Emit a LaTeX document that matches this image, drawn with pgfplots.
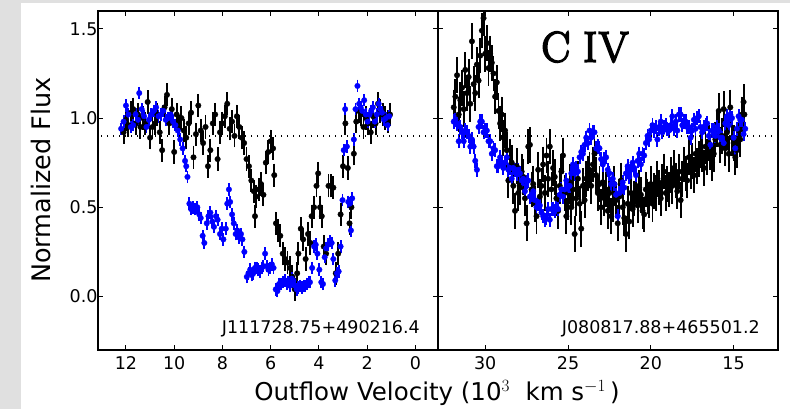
\documentclass[border=0pt]{standalone}
\usepackage{pgfplots}
\pgfplotsset{compat=1.18}
\usepackage{fontspec}
\setmainfont{DejaVu Sans}
\newfontfamily\civfont[FakeBold=4]{Latin Modern Roman}
\definecolor{bg}{RGB}{224,224,224}
\definecolor{pblue}{RGB}{0,0,255}
\pgfplotsset{
  panel/.style={
    scale only axis, width=340bp, height=339bp,
    ymin=-0.3, ymax=1.6, x dir=reverse,
    axis line style={line width=1.2bp},
    every tick/.style={line width=1bp, black},
    major tick length=5bp,
    tick align=inside, tick pos=both,
    ytick={0,0.5,1,1.5},
    /pgf/number format/assume math mode=true,
    tick label style={font=\fontsize{17.5bp}{21bp}\selectfont},
    xticklabel style={yshift=-3bp},
    yticklabel style={xshift=3bp, /pgf/number format/.cd, fixed, fixed zerofill, precision=1},
    clip=true,
  },
  blk/.style={only marks, mark=*, mark size=2.8bp, draw=black, fill=black,
    mark options={fill=black, draw=black, line width=0.3bp},
    error bars/.cd, y dir=both, y fixed=#1, error mark=none,
    error bar style={line width=1.9bp, black}},
  blu/.style={only marks, mark=*, mark size=2.8bp, draw=pblue, fill=pblue,
    mark options={fill=pblue, draw=pblue, line width=0.3bp},
    error bars/.cd, y dir=both, y fixed=#1, error mark=none,
    error bar style={line width=1.9bp, pblue}},
  dotl/.style={black, line width=1.4bp, dash pattern=on 1.4bp off 4.6bp},
}
\begin{document}
\begin{tikzpicture}[x=1bp,y=1bp]
\useasboundingbox (0,0) rectangle (790,409);
\fill[bg] (0,0) rectangle (790,409);
\fill[white] (21,0) rectangle (790,406);

% ---------------- left panel ----------------
\begin{axis}[panel, at={(98bp,59bp)}, anchor=south west,
  xmin=-0.94, xmax=13.16, xtick={0,2,4,6,8,10,12}]
\addplot[blk=0.065] table[row sep=\\]{x y\\
12.1 0.92\\ 12.0 0.99\\ 11.9 0.96\\ 11.8 1.03\\ 11.7 1.05\\ 11.6 0.97\\ 11.5 1.02\\ 11.4 0.95\\ 11.3 1.00\\ 11.2 0.97\\
11.1 1.09\\ 11.0 0.89\\ 10.9 0.95\\ 10.8 0.97\\ 10.7 1.02\\ 10.6 0.92\\ 10.5 0.82\\ 10.4 1.06\\ 10.3 1.13\\ 10.2 0.97\\
10.1 1.05\\ 10.0 0.81\\ 9.9 1.02\\ 9.8 0.95\\ 9.7 1.00\\ 9.6 0.93\\ 9.5 0.89\\ 9.4 0.97\\ 9.3 1.03\\ 9.2 0.78\\
9.1 0.91\\ 9.0 1.07\\ 8.9 0.93\\ 8.8 0.86\\ 8.7 0.95\\ 8.6 0.73\\ 8.5 0.82\\ 8.4 0.97\\ 8.3 1.02\\ 8.2 0.77\\
8.1 0.92\\ 8.0 0.97\\ 7.9 1.01\\ 7.8 1.08\\ 7.7 0.94\\ 7.6 0.98\\ 7.5 0.90\\ 7.4 1.01\\ 7.3 0.95\\ 7.2 0.89\\
7.1 0.86\\ 7.0 0.77\\ 6.9 0.73\\ 6.8 0.65\\ 6.7 0.59\\ 6.65 0.45\\ 6.6 0.56\\ 6.5 0.60\\ 6.4 0.63\\ 6.3 0.57\\
6.2 0.75\\ 6.1 0.81\\ 6.0 0.87\\ 5.9 0.83\\ 5.85 0.68\\ 5.78 0.41\\ 5.7 0.37\\ 5.6 0.34\\ 5.5 0.24\\ 5.4 0.21\\
5.3 0.19\\ 5.2 0.16\\ 5.1 0.11\\ 5.0 0.04\\ 4.9 0.13\\ 4.85 0.24\\ 4.75 0.38\\ 4.65 0.32\\ 4.55 0.21\\ 4.45 0.35\\
4.35 0.30\\ 4.3 0.45\\ 4.2 0.50\\ 4.1 0.62\\ 4.03 0.69\\ 3.95 0.50\\ 3.88 0.45\\ 3.8 0.28\\ 3.7 0.24\\ 3.6 0.62\\
3.5 0.62\\ 3.4 0.61\\ 3.3 0.13\\ 3.2 0.24\\ 3.1 0.46\\ 3.0 0.73\\ 2.9 0.97\\ 2.8 0.72\\ 2.73 0.41\\ 2.65 0.50\\
2.55 0.80\\ 2.45 0.98\\ 2.35 1.04\\ 2.25 1.02\\ 2.15 0.95\\ 2.05 1.00\\ 1.95 0.97\\ 1.85 0.92\\ 1.75 1.01\\ 1.65 0.97\\
1.55 1.08\\ 1.45 1.04\\ 1.35 1.02\\ 1.25 1.00\\ 1.15 0.98\\ 1.05 1.02\\
};
\addplot[blu=0.035] table[row sep=\\]{x y\\
12.2 0.94\\ 12.1 0.98\\ 12.0 1.07\\ 11.9 1.02\\ 11.8 0.95\\ 11.7 0.96\\ 11.6 1.02\\ 11.5 0.99\\ 11.45 1.14\\ 11.35 1.05\\
11.25 1.01\\ 11.15 0.95\\ 11.05 0.99\\ 10.95 1.02\\ 10.85 1.04\\ 10.75 1.06\\ 10.65 1.01\\ 10.55 1.02\\ 10.45 1.04\\ 10.35 0.99\\
10.25 1.00\\ 10.15 1.02\\ 10.05 0.98\\ 9.95 0.96\\ 9.85 0.93\\ 9.75 0.88\\ 9.65 0.83\\ 9.55 0.76\\ 9.5 0.73\\ 9.45 0.67\\
9.37 0.52\\ 9.3 0.49\\ 9.22 0.50\\ 9.14 0.49\\ 9.04 0.50\\ 8.96 0.46\\ 8.9 0.44\\ 8.82 0.34\\ 8.75 0.30\\ 8.65 0.41\\
8.58 0.45\\ 8.5 0.47\\ 8.42 0.42\\ 8.35 0.39\\ 8.27 0.45\\ 8.2 0.43\\ 8.1 0.35\\ 8.03 0.38\\ 7.96 0.32\\ 7.86 0.38\\
7.8 0.52\\ 7.73 0.60\\ 7.68 0.53\\ 7.6 0.46\\ 7.53 0.41\\ 7.45 0.35\\ 7.38 0.37\\ 7.3 0.33\\ 7.23 0.35\\ 7.17 0.32\\
7.09 0.25\\ 6.99 0.11\\ 6.92 0.13\\ 6.85 0.15\\ 6.78 0.12\\ 6.72 0.13\\ 6.65 0.16\\ 6.58 0.16\\ 6.51 0.15\\ 6.44 0.14\\
6.37 0.16\\ 6.3 0.17\\ 6.23 0.24\\ 6.16 0.17\\ 6.09 0.15\\ 6.02 0.16\\ 5.95 0.18\\ 5.88 0.16\\ 5.79 0.04\\ 5.72 0.03\\
5.65 0.07\\ 5.57 0.07\\ 5.5 0.08\\ 5.4 0.09\\ 5.33 0.07\\ 5.27 0.08\\ 5.2 0.06\\ 5.13 0.10\\ 5.06 0.09\\ 4.99 0.06\\
4.92 0.04\\ 4.85 0.05\\ 4.78 0.06\\ 4.71 0.05\\ 4.64 0.06\\ 4.57 0.06\\ 4.5 0.07\\ 4.43 0.08\\ 4.37 0.08\\ 4.28 0.16\\
4.2 0.28\\ 4.13 0.29\\ 4.06 0.24\\ 3.98 0.15\\ 3.9 0.08\\ 3.83 0.07\\ 3.76 0.22\\ 3.7 0.27\\ 3.62 0.29\\ 3.55 0.31\\
3.47 0.30\\ 3.4 0.21\\ 3.32 0.09\\ 3.25 0.13\\ 3.18 0.14\\ 3.1 0.28\\ 3.02 0.54\\ 2.97 0.82\\ 2.91 1.05\\ 2.84 0.84\\
2.78 0.53\\ 2.72 0.52\\ 2.67 0.37\\ 2.62 0.55\\ 2.55 0.88\\ 2.48 1.05\\ 2.4 1.18\\ 2.33 1.08\\ 2.27 1.06\\ 2.2 1.04\\
2.12 1.10\\ 2.05 1.02\\ 1.98 0.98\\ 1.9 1.02\\ 1.83 1.04\\ 1.76 1.06\\ 1.68 0.98\\ 1.6 1.02\\ 1.52 1.08\\ 1.45 1.05\\
1.38 1.03\\ 1.3 0.99\\ 1.22 1.00\\ 1.15 0.96\\ 1.08 1.01\\
};
\addplot[dotl] coordinates {(-0.94,0.9) (13.16,0.9)};
\end{axis}

% ---------------- right panel ----------------
\begin{axis}[panel, at={(438bp,59bp)}, anchor=south west,
  xmin=12.32, xmax=32.85, xtick={15,20,25,30}, yticklabels={}]
\addplot[blk=0.1] table[row sep=\\]{x y\\
31.9 1.06\\ 31.8 1.12\\ 31.7 1.24\\ 31.6 1.02\\ 31.5 1.10\\ 31.4 1.17\\ 31.3 1.05\\ 31.2 1.27\\ 31.1 1.14\\ 31.0 1.23\\
30.9 1.08\\ 30.8 1.43\\ 30.7 1.19\\ 30.6 1.14\\ 30.5 1.30\\ 30.4 1.21\\ 30.3 1.35\\ 30.2 1.49\\ 30.1 1.56\\ 30.0 1.36\\
29.9 1.42\\ 29.8 1.28\\ 29.7 1.36\\ 29.6 1.31\\ 29.5 1.25\\ 29.4 1.12\\ 29.3 1.20\\ 29.2 1.04\\ 29.1 0.97\\ 29.0 1.02\\
28.9 0.89\\ 28.8 0.93\\ 28.7 0.82\\ 28.6 0.65\\ 28.5 0.78\\ 28.4 0.75\\ 28.3 0.62\\ 28.2 0.48\\ 28.1 0.73\\ 28.0 0.58\\
27.9 0.61\\ 27.8 0.70\\ 27.7 0.67\\ 27.6 0.55\\ 27.5 0.41\\ 27.4 0.84\\ 27.3 0.85\\ 27.2 0.60\\ 27.1 0.63\\ 27.0 0.52\\
26.9 0.45\\ 26.8 0.71\\ 26.7 0.56\\ 26.6 0.62\\ 26.5 0.74\\ 26.4 0.58\\ 26.3 0.79\\ 26.2 0.66\\ 26.1 0.84\\ 26.0 0.60\\
25.9 0.72\\ 25.8 0.67\\ 25.7 0.55\\ 25.6 0.48\\ 25.5 0.62\\ 25.4 0.70\\ 25.3 0.79\\ 25.2 0.58\\ 25.1 0.45\\ 25.0 0.53\\
24.9 0.64\\ 24.8 0.50\\ 24.7 0.60\\ 24.6 0.35\\ 24.5 0.55\\ 24.4 0.66\\ 24.3 0.52\\ 24.2 0.38\\ 24.1 0.62\\ 24.0 0.54\\
23.9 0.66\\ 23.8 0.69\\ 23.7 0.71\\ 23.6 0.62\\ 23.5 0.74\\ 23.4 0.80\\ 23.3 0.68\\ 23.2 0.58\\ 23.1 0.63\\ 23.0 0.50\\
22.9 0.64\\ 22.8 0.55\\ 22.7 0.60\\ 22.6 0.48\\ 22.5 0.58\\ 22.4 0.45\\ 22.3 0.52\\ 22.2 0.63\\ 22.1 0.54\\ 22.0 0.41\\
21.9 0.56\\ 21.8 0.65\\ 21.7 0.50\\ 21.6 0.44\\ 21.5 0.35\\ 21.4 0.52\\ 21.3 0.42\\ 21.2 0.58\\ 21.1 0.49\\ 21.0 0.55\\
20.9 0.62\\ 20.8 0.51\\ 20.7 0.61\\ 20.6 0.57\\ 20.5 0.48\\ 20.4 0.46\\ 20.3 0.60\\ 20.2 0.56\\ 20.1 0.54\\ 20.0 0.63\\
19.9 0.52\\ 19.8 0.59\\ 19.7 0.58\\ 19.6 0.66\\ 19.5 0.61\\ 19.4 0.55\\ 19.3 0.64\\ 19.2 0.70\\ 19.1 0.58\\ 19.0 0.63\\
18.9 0.60\\ 18.8 0.68\\ 18.7 0.62\\ 18.6 0.72\\ 18.5 0.65\\ 18.4 0.59\\ 18.3 0.70\\ 18.2 0.54\\ 18.1 0.66\\ 18.0 0.74\\
17.9 0.69\\ 17.8 0.65\\ 17.7 0.78\\ 17.6 0.70\\ 17.5 0.76\\ 17.4 0.68\\ 17.3 0.80\\ 17.2 0.73\\ 17.1 0.77\\ 17.0 0.82\\
16.9 0.80\\ 16.8 0.72\\ 16.7 0.84\\ 16.6 0.78\\ 16.5 0.86\\ 16.4 0.81\\ 16.3 0.75\\ 16.2 0.80\\ 16.1 0.88\\ 16.0 0.94\\
15.9 1.04\\ 15.8 0.85\\ 15.7 0.90\\ 15.6 1.05\\ 15.5 0.83\\ 15.4 0.92\\ 15.3 0.80\\ 15.2 1.06\\ 15.1 0.89\\ 15.0 0.86\\
14.9 0.78\\ 14.8 0.82\\ 14.7 0.93\\ 14.6 0.88\\ 14.5 1.02\\ 14.4 1.09\\ 14.35 1.02\\
};
\addplot[blu=0.04] table[row sep=\\]{x y\\
31.9 0.98\\ 31.8 0.99\\ 31.7 0.97\\ 31.6 0.87\\ 31.5 0.95\\ 31.4 0.92\\ 31.3 0.87\\ 31.2 0.93\\ 31.1 0.92\\ 31.0 0.90\\
30.9 0.84\\ 30.8 0.88\\ 30.7 0.84\\ 30.6 0.76\\ 30.5 0.71\\ 30.4 0.95\\ 30.3 0.98\\ 30.2 0.98\\ 30.1 0.92\\ 30.0 0.93\\
29.9 0.93\\ 29.8 0.87\\ 29.7 0.87\\ 29.6 0.80\\ 29.5 0.83\\ 29.4 0.82\\ 29.3 0.73\\ 29.2 0.73\\ 29.1 0.78\\ 29.0 0.75\\
28.9 0.72\\ 28.8 0.75\\ 28.7 0.78\\ 28.6 0.71\\ 28.5 0.72\\ 28.4 0.66\\ 28.3 0.72\\ 28.2 0.71\\ 28.1 0.69\\ 28.0 0.71\\
27.9 0.69\\ 27.8 0.65\\ 27.7 0.66\\ 27.6 0.59\\ 27.5 0.64\\ 27.4 0.65\\ 27.3 0.56\\ 27.2 0.57\\ 27.1 0.59\\ 27.0 0.54\\
26.9 0.50\\ 26.8 0.52\\ 26.7 0.51\\ 26.6 0.47\\ 26.5 0.45\\ 26.4 0.43\\ 26.3 0.44\\ 26.2 0.49\\ 26.1 0.43\\ 26.0 0.49\\
25.9 0.49\\ 25.8 0.48\\ 25.7 0.50\\ 25.6 0.49\\ 25.5 0.57\\ 25.4 0.60\\ 25.3 0.56\\ 25.2 0.60\\ 25.1 0.65\\ 25.0 0.62\\
24.9 0.62\\ 24.8 0.69\\ 24.7 0.74\\ 24.6 0.69\\ 24.5 0.72\\ 24.4 0.70\\ 24.3 0.78\\ 24.2 0.81\\ 24.1 0.80\\ 24.0 0.85\\
23.9 0.89\\ 23.8 0.86\\ 23.7 0.93\\ 23.6 0.89\\ 23.5 0.92\\ 23.4 0.92\\ 23.3 0.83\\ 23.2 0.84\\ 23.1 0.83\\ 23.0 0.77\\
22.9 0.74\\ 22.8 0.77\\ 22.7 0.78\\ 22.6 0.71\\ 22.5 0.69\\ 22.4 0.63\\ 22.3 0.66\\ 22.2 0.63\\ 22.1 0.57\\ 22.0 0.45\\
21.9 0.58\\ 21.8 0.59\\ 21.7 0.64\\ 21.6 0.61\\ 21.5 0.69\\ 21.4 0.73\\ 21.3 0.67\\ 21.2 0.71\\ 21.1 0.75\\ 21.0 0.72\\
20.9 0.68\\ 20.8 0.76\\ 20.7 0.80\\ 20.6 0.74\\ 20.5 0.80\\ 20.4 0.79\\ 20.3 0.86\\ 20.2 0.90\\ 20.1 0.88\\ 20.0 0.93\\
19.9 0.96\\ 19.8 0.93\\ 19.7 0.95\\ 19.6 0.88\\ 19.5 0.94\\ 19.4 0.98\\ 19.3 0.92\\ 19.2 0.95\\ 19.1 0.96\\ 19.0 0.94\\
18.9 0.93\\ 18.8 0.96\\ 18.7 1.01\\ 18.6 0.94\\ 18.5 0.98\\ 18.4 0.93\\ 18.3 1.02\\ 18.2 1.02\\ 18.1 0.96\\ 18.0 0.98\\
17.9 0.98\\ 17.8 0.95\\ 17.7 0.95\\ 17.6 0.89\\ 17.5 0.93\\ 17.4 0.99\\ 17.3 0.94\\ 17.2 1.00\\ 17.1 1.01\\ 17.0 0.95\\
16.9 0.92\\ 16.8 0.95\\ 16.7 0.96\\ 16.6 0.97\\ 16.5 0.90\\ 16.4 0.85\\ 16.3 0.93\\ 16.2 0.93\\ 16.1 0.90\\ 16.0 0.95\\
15.9 0.93\\ 15.8 0.89\\ 15.7 0.89\\ 15.6 0.86\\ 15.5 0.97\\ 15.4 1.01\\ 15.3 0.96\\ 15.2 1.02\\ 15.1 1.00\\ 15.0 0.89\\
14.9 0.83\\ 14.8 0.94\\ 14.7 1.01\\ 14.6 0.99\\ 14.5 0.99\\ 14.4 0.91\\ 14.3 0.94\\
};
\addplot[dotl] coordinates {(12.32,0.9) (32.85,0.9)};
\end{axis}

% ---------------- texts ----------------
\node[anchor=base east, inner sep=0pt, font=\fontsize{17.5bp}{21bp}\selectfont] at (420,75.7) {J111728.75+490216.4};
\node[anchor=base east, inner sep=0pt, font=\fontsize{17.5bp}{21bp}\selectfont] at (760,75.7) {J080817.88+465501.2};
\node[anchor=base, inner sep=0pt] at (585,347.3) {\civfont\fontsize{43bp}{48bp}\selectfont C I\kern1.5bp V};
\node[anchor=base, inner sep=0pt, rotate=90, font=\fontsize{25.5bp}{30bp}\selectfont] at (50,229) {Normalized Flux};
\node[anchor=base, inner sep=0pt, font=\fontsize{24.5bp}{30bp}\selectfont] at (437,9) {Outflow Velocity (10$^{3}$\ \ km s$^{-1}$\,)};
\end{tikzpicture}
\end{document}
